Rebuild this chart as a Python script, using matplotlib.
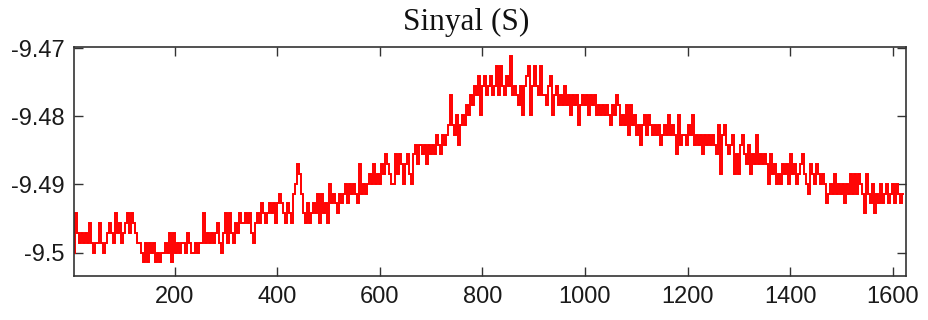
import numpy as np
import matplotlib
matplotlib.use("Agg")
import matplotlib.pyplot as plt

# Signal (step ~0.00144 above -9.5)
count_offset = -9.5
count_step = 0.00144

counts_a = [0, 4, 2, 1, 2,  1, 2, 1, 3, 1,  0, 1, 1, 3, 1,  0, 1, 2, 3, 2,
            1, 4, 2, 3, 1,  2, 3, 4, 2, 4,  3, 2, 1, 1, 0,  -1, 1, -1, 1, 0,
            1, -1, 0, -1, 0,  0, 1, 0, 2, -1,  2, 0, 1, 0, 1,  1, 0, 2, 1, 0,
            0, 1, 0, 1, 1,  4, 1, 2, 1, 2,  1, 2, 3, 1, 0,  2, 4, 1, 4, 2,
            1, 3, 2, 4, 3,  3, 4, 3, 4, 2,  1, 3, 4, 3, 5,  4, 3, 4, 5, 4,
            5, 3, 5, 6, 5]
counts_b = [4, 3, 5, 4, 3,  6, 7, 9, 8, 6,  4, 3, 5, 3, 4,  5, 4, 6, 3, 6,
            4, 5, 3, 7, 5,  6, 5, 4, 6, 5,  6, 7, 5, 7, 6,  7, 6, 5, 9, 6,
            7, 6, 7, 8, 7,  9, 7, 8, 7, 9,  8, 10, 9, 8, 7,  7, 10, 8, 10, 9,
            7, 9, 10, 8, 7,  10, 11, 9, 11, 10,  11, 9, 11, 10, 11,  10, 12, 11, 10, 12,
            11, 12, 13, 16, 13,  12, 14, 11, 13, 14,  13, 15, 14, 16, 15,  17, 16, 18, 14, 17,
            18, 16, 17, 18, 16]
counts_c = [17, 19, 16, 19, 17,  16, 18, 17, 20, 16,  17, 16, 15, 17, 14,  17, 18, 19, 14, 17,
            19, 17, 16, 19, 16,  16, 15, 17, 18, 14,  16, 17, 15, 16, 15,  17, 15, 16, 14, 16,
            15, 16, 13, 15, 16,  15, 16, 14, 16, 15,  16, 14, 15, 14, 15,  14, 15, 14, 13, 15,
            14, 16, 15, 13, 14,  13, 15, 12, 15, 13,  14, 12, 13, 11, 13,  14, 12, 14, 13, 12,
            13, 12, 13, 11, 12,  13, 12, 14, 12, 13,  12, 10, 14, 11, 12,  12, 11, 13, 12, 14,
            11, 12, 11, 12, 10]
counts_d = [12, 11, 12, 11, 12,  11, 10, 13, 8, 12,  13, 11, 10, 11, 12,  8, 10, 8, 11, 12,
            10, 9, 11, 8, 10,  9, 12, 9, 10, 9,  10, 9, 7, 10, 8,  9, 7, 8, 7, 9,
            8, 9, 7, 10, 8,  9, 7, 8, 9, 10,  8, 7, 6, 9, 8,  7, 9, 8, 7, 8,
            7, 5, 6, 7, 6,  8, 6, 7, 6, 7,  5, 7, 6, 8, 6,  8, 6, 8, 7, 6,
            4, 8, 6, 5, 7,  4, 6, 5, 7, 5,  6, 7, 5, 6, 7,  5, 7, 6, 5, 6]

x_first, x_last = 4, 1620
x_ticks = [200, 400, 600, 800, 1000, 1200, 1400, 1600]
y_ticks = [-9.5, -9.49, -9.48, -9.47]
y_tick_labels = ["-9.5", "-9.49", "-9.48", "-9.47"]
title_text = "Sinyal (S)"

counts = np.array(counts_a + counts_b + counts_c + counts_d, dtype=float)
signal = count_offset + count_step * counts
samples = np.linspace(x_first, x_last, len(signal))

fig = plt.figure(figsize=(9.29, 3.20), dpi=100)
ax = fig.add_axes([74 / 929, 1 - 275.7 / 320, (905.7 - 74) / 929, (275.7 - 46.7) / 320])

ax.plot(samples, signal, color="#ff0000", lw=1.4, drawstyle="steps-mid",
        solid_joinstyle="miter")

ax.set_xlim(3.7, 1625.3)
ax.set_ylim(-9.5034, -9.4698)
ax.set_xticks(x_ticks)
ax.set_xticklabels([str(t) for t in x_ticks])
ax.set_yticks(y_ticks)
ax.set_yticklabels(y_tick_labels)

tick_color = "#1a1a1a"
ax.tick_params(axis="both", direction="in", length=6.5, width=1.0, colors="#333333",
               labelcolor=tick_color, labelsize=17, top=True, right=True)
ax.tick_params(axis="x", pad=7.5)
ax.tick_params(axis="y", pad=6.5)
for lab in ax.get_xticklabels() + ax.get_yticklabels():
    lab.set_fontfamily(["Liberation Sans", "DejaVu Sans"])

for sp in ax.spines.values():
    sp.set_color("#333333")
    sp.set_linewidth(1.2)

fig.text(466.5 / 929, 1 - 30 / 320, title_text, ha="center", va="baseline",
         fontsize=22.5, family=["Liberation Serif", "DejaVu Serif"], color="#111111")

fig.savefig("out.png", dpi=100)
